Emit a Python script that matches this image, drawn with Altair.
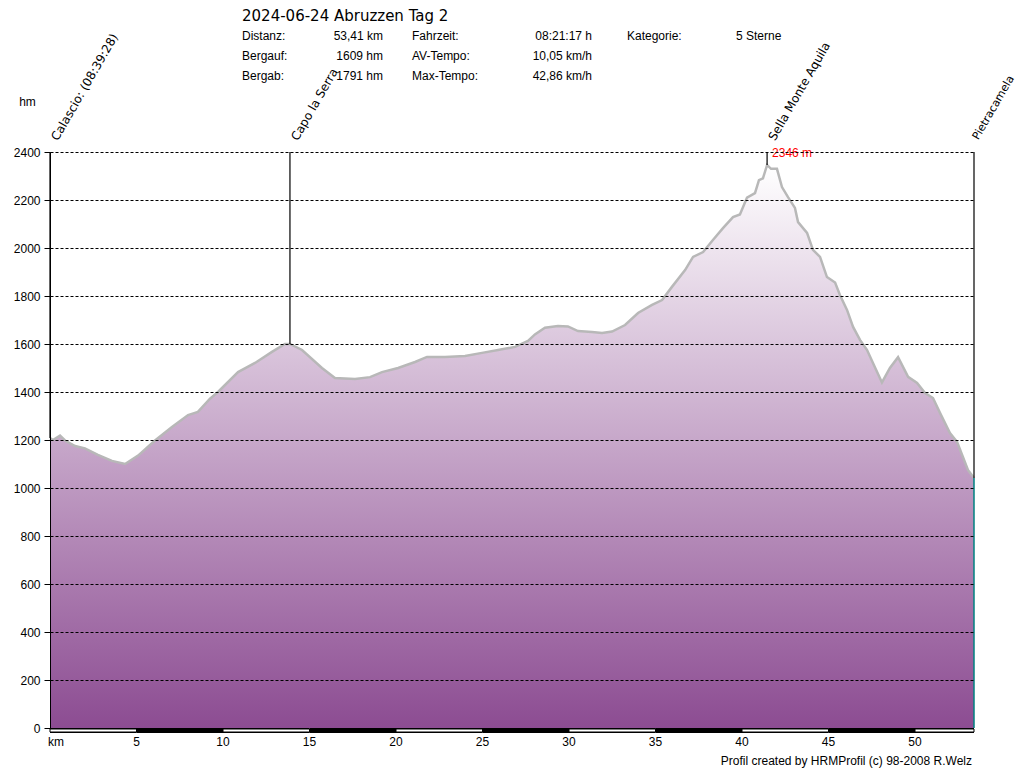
import altair as alt
import pandas as pd

# ---- profile data (km, elevation m) ----
km = [0.0, 0.17, 0.58, 0.87, 1.45, 2.02, 2.77, 3.58, 4.34, 5.09, 6.07, 7.05, 7.98, 8.55,
      9.25, 9.71, 10.87, 11.85, 12.83, 13.58, 13.87, 14.57, 15.72, 16.47, 17.63, 18.50,
      19.19, 20.12, 21.10, 21.79, 22.83, 23.99, 24.97, 25.90, 26.88, 27.63, 28.03, 28.61,
      29.36, 29.94, 30.52, 31.33, 31.91, 32.49, 33.24, 33.99, 34.80, 35.38, 35.95, 36.71,
      37.17, 37.75, 38.32, 38.90, 39.48, 39.88, 40.29, 40.75, 40.98, 41.21, 41.45, 41.68,
      42.02, 42.31, 42.66, 43.06, 43.24, 43.76, 44.10, 44.51, 44.91, 45.38, 45.66, 46.07,
      46.42, 46.82, 47.23, 47.57, 48.09, 48.55, 49.02, 49.60, 50.12, 50.58, 51.04, 51.45,
      52.02, 52.43, 52.77, 53.06, 53.41]
elev = [1208, 1200, 1218, 1198, 1175, 1165, 1138, 1113, 1100, 1135, 1198, 1254, 1304, 1317,
        1372, 1400, 1483, 1521, 1567, 1600, 1600, 1575, 1500, 1458, 1454, 1462,
        1483, 1500, 1525, 1546, 1546, 1550, 1563, 1575, 1588, 1613, 1640, 1668,
        1675, 1673, 1654, 1650, 1646, 1652, 1679, 1729, 1763, 1783, 1838, 1908,
        1963, 1983, 2033, 2083, 2129, 2140, 2210, 2229, 2283, 2290, 2346, 2330,
        2330, 2254, 2212, 2167, 2108, 2063, 1992, 1963, 1879, 1856, 1804, 1742,
        1671, 1617, 1575, 1521, 1440, 1500, 1545, 1463, 1438, 1396, 1375, 1312,
        1229, 1192, 1129, 1075, 1042]

# ---- waypoints ----
wp_names = ["Calascio: (08:39:28)", "Capo la Serra", "Sella Monte Aquila", "Pietracamela"]
wp_km = [0.0, 13.87, 41.45, 53.41]
wp_elev = [1208, 1600, 2346, 1042]

# ---- header / texts ----
title_text = "2024-06-24 Abruzzen Tag 2"
stat_labels_a = ["Distanz:", "Bergauf:", "Bergab:"]
stat_values_a = ["53,41 km", "1609 hm", "1791 hm"]
stat_labels_b = ["Fahrzeit:", "AV-Tempo:", "Max-Tempo:"]
stat_values_b = ["08:21:17 h", "10,05 km/h", "42,86 km/h"]
stat_labels_c = ["Kategorie:"]
stat_values_c = ["5 Sterne"]
footer_text = "Profil created by HRMProfil (c) 98-2008 R.Welz"
y_unit = "hm"
x_unit = "km"

y_ticks = [0, 200, 400, 600, 800, 1000, 1200, 1400, 1600, 1800, 2000, 2200, 2400]
x_ticks = [5, 10, 15, 20, 25, 30, 35, 40, 45, 50]
seg_start = [0, 5, 10, 15, 20, 25, 30, 35, 40, 45, 50]
seg_end = [5, 10, 15, 20, 25, 30, 35, 40, 45, 50, 53.41]

FONT = "Liberation Sans"
xs = alt.Scale(domain=[0, 53.41], nice=False, zero=False)
ys = alt.Scale(domain=[0, 2400], nice=False)

prof = pd.DataFrame({"km": km, "elev": elev})
wp = pd.DataFrame({"name": wp_names, "km": wp_km, "elev": wp_elev})
imax = elev.index(max(elev))
peak = pd.DataFrame({"km": [km[imax]], "t": [f"{max(elev)} m"]})
segs = pd.DataFrame({"s": seg_start, "e": seg_end,
                     "white": [i % 2 == 0 for i in range(len(seg_start))]})
xt = pd.DataFrame({"v": x_ticks, "t": [str(v) for v in x_ticks]})

grad = alt.Gradient(gradient="linear",
                    stops=[alt.GradientStop(color="#ffffff", offset=0),
                           alt.GradientStop(color="#8c4c92", offset=1)],
                    x1=0, x2=0, y1=0, y2=1)

yaxis = alt.Axis(values=y_ticks, format="d", grid=True, gridColor="black", gridDash=[3, 2],
                 gridWidth=1, domain=True, domainColor="black", domainWidth=1, ticks=True,
                 tickColor="black", tickSize=6, labelFont=FONT, labelFontSize=12,
                 labelColor="black", labelPadding=4, title=None, zindex=1)

area = alt.Chart(prof).mark_area(color=grad, interpolate="linear").encode(
    x=alt.X("km:Q", scale=xs, axis=None),
    y=alt.Y("elev:Q", scale=ys, axis=yaxis))
line = alt.Chart(prof).mark_line(color="#b8b8b8", strokeWidth=2.5).encode(
    x=alt.X("km:Q", scale=xs), y=alt.Y("elev:Q", scale=ys))

last = wp.iloc[[-1]]
teal = alt.Chart(last).mark_rule(color="#008080", strokeWidth=1.5).encode(
    x=alt.X("km:Q", scale=xs), y=alt.Y("elev:Q", scale=ys), y2=alt.datum(0))
rules = alt.Chart(wp).mark_rule(color="black", strokeWidth=1.2).encode(
    x=alt.X("km:Q", scale=xs), y=alt.Y("elev:Q", scale=ys), y2=alt.datum(2400))

bar_black = alt.Chart(segs).mark_rect(color="black").encode(
    x=alt.X("s:Q", scale=xs), x2="e:Q", y=alt.value(576), y2=alt.value(581))
bar_white = alt.Chart(segs).transform_filter("datum.white").mark_rect(
    fill="white", stroke="black", strokeWidth=1).encode(
    x=alt.X("s:Q", scale=xs), x2="e:Q", y=alt.value(577), y2=alt.value(580))

xlab = alt.Chart(xt).mark_text(font=FONT, fontSize=12, color="black", baseline="middle").encode(
    x=alt.X("v:Q", scale=xs), y=alt.value(590), text="t:N")

wplab = alt.Chart(wp).transform_filter("datum.km < 53").mark_text(
    angle=300, align="left", baseline="top", font="DejaVu Sans",
    fontSize=12, color="black").encode(
    x=alt.X("km:Q", scale=xs), y=alt.value(-15), text="name:N")
wplab_end = alt.Chart(wp).transform_filter("datum.km >= 53").mark_text(
    angle=300, align="left", baseline="top", font="DejaVu Sans",
    fontSize=11, dy=-4, color="black").encode(
    x=alt.X("km:Q", scale=xs), y=alt.value(-14), text="name:N")

peaklab = alt.Chart(peak).mark_text(align="left", baseline="middle", dx=5, font=FONT,
                                   fontSize=12, color="red").encode(
    x=alt.X("km:Q", scale=xs), y=alt.value(1), text="t:N")


def txt(s, x, y, align="left", size=12, font=FONT, color="black", baseline="middle"):
    return alt.Chart(pd.DataFrame({"t": [s]})).mark_text(
        align=align, baseline=baseline, font=font, fontSize=size, color=color).encode(
        x=alt.value(x), y=alt.value(y), text="t:N")


texts = [txt(title_text, 192, -131, size=15, font="DejaVu Sans", baseline="alphabetic"),
         txt(y_unit, -22.5, -50, align="center"),
         txt(x_unit, -2, 590),
         txt(footer_text, 922, 609, align="right")]
rows = [-116, -96, -76]
for i, r in enumerate(rows):
    texts.append(txt(stat_labels_a[i], 192, r))
    texts.append(txt(stat_values_a[i], 333, r, align="right"))
    texts.append(txt(stat_labels_b[i], 362, r))
    texts.append(txt(stat_values_b[i], 542, r, align="right"))
for i, lab in enumerate(stat_labels_c):
    texts.append(txt(lab, 577, rows[i]))
    texts.append(txt(stat_values_c[i], 686, rows[i]))

chart = alt.layer(area, line, teal, rules, bar_black, bar_white, xlab, wplab, wplab_end,
                  peaklab, *texts).properties(
    width=924, height=576,
    padding={"left": 42, "top": 144, "right": 42, "bottom": 40},
    autosize=alt.AutoSizeParams(type="none"),
    background="white",
).configure_view(stroke=None)

chart.save("out.html", embed_options={"renderer": "svg", "actions": False})
